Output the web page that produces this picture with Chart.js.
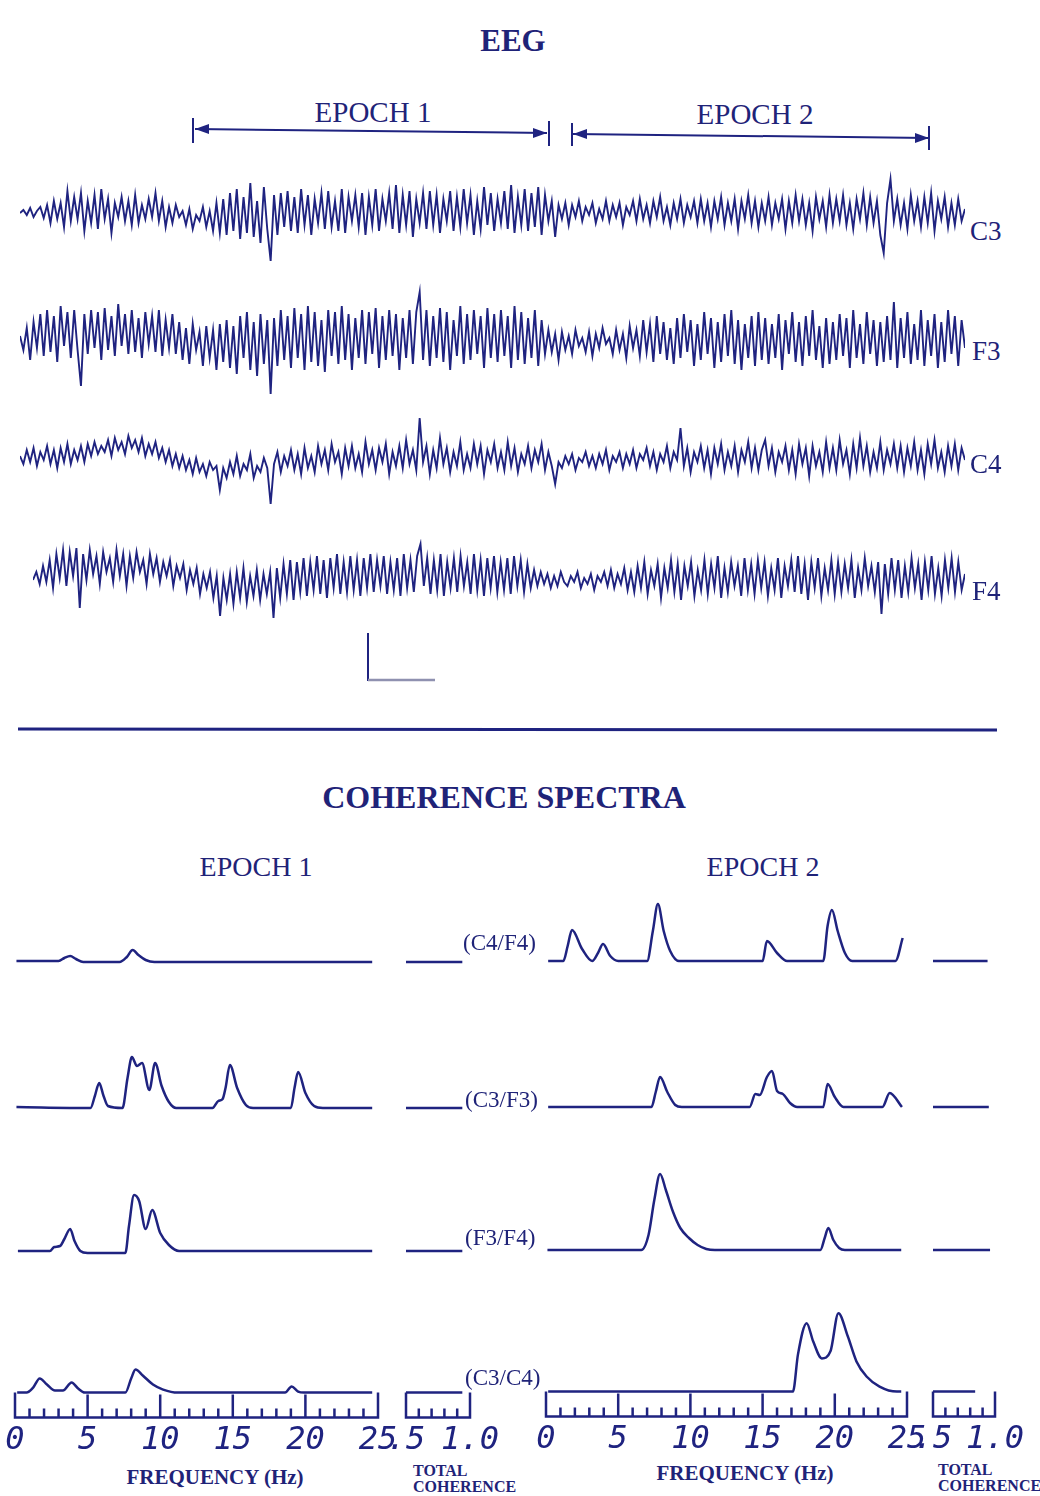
<!DOCTYPE html>
<html>
<head>
<meta charset="utf-8">
<script src="https://cdn.jsdelivr.net/npm/chart.js@4.4.1/dist/chart.umd.min.js"></script>
<style>
  html, body { margin: 0; padding: 0; background: #fff; }
  #page { position: relative; width: 1040px; height: 1496px; overflow: hidden; background: #fff;
          font-family: "Liberation Serif", "Times New Roman", serif; color: #1f2378; }
  .t { position: absolute; white-space: nowrap; line-height: 1; }
  .c { transform: translateX(-50%); }
  .b { font-weight: bold; }
  canvas { position: absolute; }
  svg { position: absolute; left: 0; top: 0; }
</style>
</head>
<body>
<div id="page">
  <svg width="1040" height="1496" viewBox="0 0 1040 1496">
    <g stroke="#1f2380" fill="#1f2380" stroke-width="2">
      <!-- epoch brackets above the traces -->
      <line x1="195" y1="129" x2="547" y2="133" />
      <line x1="193" y1="118" x2="193" y2="143" />
      <line x1="549" y1="121" x2="549" y2="146" />
      <polygon points="195,129 209,124 209,134" stroke="none" />
      <polygon points="547,133 533,128 533,138" stroke="none" />
      <line x1="573" y1="134" x2="929" y2="138" />
      <line x1="572" y1="123" x2="572" y2="146" />
      <line x1="929" y1="126" x2="929" y2="150" />
      <polygon points="573,134 587,129 587,139" stroke="none" />
      <polygon points="929,138 915,133 915,143" stroke="none" />
      <!-- calibration mark -->
      <line x1="368" y1="633" x2="368" y2="681" />
      <line x1="368" y1="680" x2="435" y2="680" stroke="#8f91b0" stroke-width="2.5" />
      <!-- section divider -->
      <line x1="18" y1="729" x2="997" y2="730" stroke-width="3" />
    </g>
  </svg>

  <div class="t c b" style="left:513px;top:25px;font-size:31px;">EEG</div>
  <div class="t c" style="left:373px;top:98px;font-size:29px;">EPOCH 1</div>
  <div class="t c" style="left:755px;top:100px;font-size:29px;">EPOCH 2</div>

  <div class="t c b" style="left:504px;top:781px;font-size:32px;">COHERENCE SPECTRA</div>
  <div class="t c" style="left:256px;top:853px;font-size:28px;">EPOCH 1</div>
  <div class="t c" style="left:763px;top:853px;font-size:28px;">EPOCH 2</div>

  <div class="t c b" style="left:215px;top:1467px;font-size:21px;">FREQUENCY (Hz)</div>
  <div class="t c b" style="left:745px;top:1463px;font-size:21px;">FREQUENCY (Hz)</div>
  <div class="t b" style="left:413px;top:1463px;font-size:16px;">TOTAL</div>
  <div class="t b" style="left:413px;top:1479px;font-size:16px;">COHERENCE</div>
  <div class="t b" style="left:938px;top:1462px;font-size:16px;">TOTAL</div>
  <div class="t b" style="left:938px;top:1478px;font-size:16px;">COHERENCE</div>
</div>

<script>
const INK = "#1f2380";

// EEG channels, deflection per sample (up is positive)
const CHANNELS = ["C3", "F3", "C4", "F4"];

const EEG_C3 = [
  0, 3, -2, 5, -4, 2, 6, -5, 8, -10, 12, -6, 10, -14, 22, -8, 16, -6, 20, -18,
  12, -10, 18, -16, 24, -6, 14, -20, 10, -4, 16, -8, 12, -12, 18, -10, 8, -6, 14, -4,
  20, -8, 12, -14, 6, -10, 8, -4, 2, -12, 4, -16, -2, -8, 6, -14, 2, -18, 10, -20,
  14, -22, 20, -18, 24, -26, 16, -20, 30, -24, 12, -30, 26, -16, -48, 18, -22, 20, -14, 22,
  -18, 16, -20, 24, -12, 18, -22, 14, -10, 20, -16, 22, -14, 12, -18, 24, -20, 16, -8, 18,
  -14, 20, -22, 16, -12, 24, -18, 14, -8, 20, -16, 28, -20, 18, -12, 22, -24, 14, -10, 20,
  -16, 22, -12, 18, -20, 14, -8, 22, -18, 16, -14, 24, -10, 18, -22, 12, -16, 26, -12, 20,
  -18, 14, -10, 22, -16, 28, -20, 16, -12, 24, -18, 20, -14, 26, -22, 18, -8, 12, -24, 8,
  -6, 10, -12, 8, -4, 12, -8, 6, -2, 10, -10, 4, -6, 12, -8, 8, -4, 10, -12, 6,
  -2, 12, -8, 14, -6, 8, -10, 12, -4, 16, -8, 6, -12, 10, -6, 14, -10, 8, -4, 12,
  -10, 14, -8, 10, -14, 12, -6, 16, -12, 10, -8, 14, -16, 12, -6, 18, -10, 12, -14, 10,
  -8, 16, -12, 10, -6, 14, -16, 12, -10, 18, -8, 14, -12, 10, -18, 16, -6, 12, -14, 18,
  -10, 14, -8, 18, -12, 10, -16, 14, -6, 20, -12, 16, -10, 12, -22, -40, 10, 34, -8, 14,
  -12, 10, -16, 18, -8, 12, -14, 16, -10, 20, -18, 12, -6, 16, -14, 10, -12, 14, -8, 4
];

const EEG_F3 = [
  4, -10, 12, -20, 18, -8, 26, -16, 30, -12, 24, -22, 34, -6, 28, -18, 30, -10, -46, 26,
  -14, 30, -8, 28, -20, 32, -10, 24, -16, 36, -6, 26, -14, 30, -12, 22, -18, 28, -4, 24,
  -12, 30, -16, 20, -8, 26, -14, 18, -20, 12, -24, 16, -10, 8, -26, 14, -18, 10, -30, 16,
  -22, 20, -28, 14, -34, 24, -18, 28, -30, 18, -36, 26, -24, 20, -54, 22, -26, 30, -20, 24,
  -28, 32, -18, 26, -30, 34, -22, 28, -26, 20, -32, 30, -16, 28, -24, 34, -20, 26, -30, 22,
  -18, 30, -24, 28, -14, 32, -28, 24, -20, 30, -16, 26, -30, 22, -18, 30, -24, 28, 48, -20,
  30, -26, 24, -18, 32, -22, 28, -30, 20, -16, 34, -24, 26, -20, 30, -14, 24, -28, 32, -18,
  26, -22, 30, -16, 24, -28, 34, -20, 28, -24, 22, -18, 30, -26, 20, -14, 10, -12, 6, -20,
  8, -10, 4, -14, 10, -6, 2, -12, 8, -16, 6, -8, 12, -4, 2, -14, 10, -10, 6, -18,
  14, -8, 10, -16, 20, -12, 16, -22, 24, -14, 18, -20, 12, -24, 22, -18, 26, -12, 20, -26,
  16, -20, 28, -14, 22, -28, 18, -22, 26, -16, 30, -24, 20, -30, 16, -18, 24, -26, 28, -20,
  22, -24, 16, -18, 26, -30, 20, -14, 28, -22, 18, -26, 24, -16, 30, -20, 14, -28, 22, -24,
  18, -20, 26, -16, 22, -28, 30, -18, 16, -24, 28, -14, 20, -26, 18, -22, 24, -20, 38, -28,
  22, -18, 28, -24, 16, -20, 30, -26, 20, -16, 26, -28, 18, -22, 30, -14, 24, -26, 20, -8
];

const EEG_C4 = [
  2, -6, 8, -4, 10, -8, 6, -2, 12, -6, 8, -10, 10, -4, 14, -6, 8, -2, 12, -4,
  14, 2, 16, 4, 12, 6, 18, 2, 20, 8, 16, 4, 22, 10, 18, 6, 20, 2, 14, 4,
  16, 0, 10, -4, 8, -8, 4, -10, 2, -12, -2, -16, 0, -14, -6, -18, -4, -12, -8, -32,
  -10, -20, -4, -16, 2, -18, -6, -12, 4, -20, -8, -14, 0, -10, -46, -6, 6, -14, 2, -8,
  8, -12, 4, -16, 10, -10, 2, -14, 12, -6, 8, -12, 14, -4, 6, -16, 10, -8, 12, -10,
  4, -14, 16, -6, 8, -12, 10, -4, 14, -16, 6, -8, 12, -10, 18, -6, 8, -12, 40, -4,
  12, -16, 8, -10, 20, -6, 10, -14, 6, -8, 16, -12, 4, -10, 14, -6, 12, -16, 8, -4,
  14, -10, 6, -12, 16, -8, 10, -14, 4, -6, 12, -10, 8, -4, 14, -12, 6, -8, -26, -4,
  -10, 2, -6, 4, -12, 0, -4, 6, -8, 2, -10, 4, -6, 8, -12, 2, -4, 6, -10, 4,
  -6, 8, -10, 4, -2, 10, -8, 6, -12, 4, -4, 12, -10, 6, -2, 30, -8, 10, -14, 6,
  -4, 12, -10, 8, -16, 10, -6, 14, -12, 6, -8, 12, -14, 8, -4, 16, -10, 10, -12, 8,
  18, -8, 10, -14, 6, -4, 12, -12, 8, -16, 14, -6, 10, -18, 12, -8, 6, -14, 16, -10,
  10, -12, 18, -6, 8, -16, 14, -10, 20, -8, 12, -14, 6, -10, 16, -12, 8, -6, 14, -10,
  12, -14, 10, -8, 16, -12, 8, -16, 14, -6, 18, -10, 6, -14, 12, -8, 14, -12, 10, -2
];

const EEG_F4 = [
  0, 8, -4, 14, -2, 20, -8, 26, 2, 30, -6, 28, 4, 32, -28, 26, 0, 30, 6, 24,
  -4, 28, 8, 22, -2, 30, 4, 26, -6, 24, 2, 28, 8, 20, -4, 26, 6, 22, -2, 18,
  4, 20, -6, 14, 2, 16, -10, 10, -4, 12, -14, 6, -8, 8, -18, 4, -36, 2, -20, 6,
  -24, 8, -18, 12, -22, 4, -16, 10, -20, 6, -14, 8, -38, 12, -18, 16, -14, 20, -20, 18,
  -12, 22, -16, 18, -10, 24, -14, 20, -18, 22, -8, 26, -14, 18, -12, 24, -10, 20, -16, 22,
  -8, 26, -12, 20, -6, 24, -14, 18, -10, 22, -16, 26, -8, 20, -12, 24, 36, -6, 22, -14,
  20, -10, 26, -16, 18, -8, 22, -12, 24, -6, 18, -14, 26, -10, 20, -16, 22, -8, 24, -12,
  18, -10, 22, -14, 24, -6, 20, -12, 16, -8, 10, -6, 8, -4, 6, -8, 4, -6, 8, -2,
  -6, 4, -2, 8, -8, 2, -4, 6, -10, 4, -2, 8, -6, 10, -8, 6, -4, 12, -10, 8,
  -12, 14, -8, 18, -14, 10, -6, 16, -18, 12, -8, 20, -12, 16, -20, 14, -6, 18, -16, 10,
  -10, 20, -14, 16, -8, 24, -18, 12, -12, 18, -6, 14, -16, 22, -10, 16, -14, 20, -8, 18,
  -16, 12, -10, 22, -18, 14, -6, 20, -12, 24, -14, 16, -20, 18, -8, 22, -16, 12, -10, 20,
  -14, 18, -12, 16, -8, 20, -18, 12, -10, 22, -6, 14, -12, 18, -34, 16, -14, 22, -10, 20,
  -18, 14, -12, 22, -8, 16, -20, 18, -10, 24, -14, 12, -16, 20, -8, 22, -12, 18, -10, 6
];

// coherence spectra, [frequency Hz, coherence]
const PAIRS = ["(C4/F4)", "(C3/F3)", "(F3/F4)", "(C3/C4)"];

const E1_C4F4 = [[0.1,0.01],[3.0,0.01],[3.4,0.04],[3.8,0.06],[4.2,0.03],[4.7,0],[7.2,0],[7.7,0.05],[8.1,0.12],[8.5,0.07],[9.0,0.02],[9.6,0],[24.6,0]];
const E1_C3F3 = [[0.1,0.01],[5.2,0],[5.5,0.12],[5.8,0.25],[6.1,0.12],[6.4,0.02],[7.4,0],[7.75,0.3],[8.05,0.51],[8.4,0.42],[8.75,0.45],[9.25,0.18],[9.65,0.45],[10.1,0.22],[10.6,0.06],[11.1,0],[13.6,0],[14.0,0.07],[14.3,0.09],[14.5,0.2],[14.8,0.43],[15.3,0.2],[15.9,0.03],[16.4,0],[19.0,0],[19.25,0.2],[19.5,0.36],[20.0,0.15],[20.6,0.02],[21.2,0],[24.6,0]];
const E1_F3F4 = [[0.2,0],[2.4,0],[2.7,0.04],[3.1,0.05],[3.4,0.12],[3.8,0.22],[4.1,0.1],[4.5,0],[5.0,-0.02],[7.6,-0.02],[7.85,0.25],[8.2,0.56],[8.55,0.5],[9.0,0.22],[9.45,0.41],[10.0,0.18],[10.6,0.06],[11.3,0],[24.6,0]];
const E1_C3C4 = [[0.15,0],[0.8,0],[1.25,0.05],[1.7,0.14],[2.2,0.08],[2.75,0.02],[3.3,0.02],[3.9,0.1],[4.35,0.04],[4.8,0],[7.6,0],[8.0,0.14],[8.3,0.23],[8.8,0.17],[9.5,0.08],[10.2,0.03],[11.2,0],[18.6,0],[19.05,0.06],[19.5,0.01],[19.9,0],[24.6,0]];

const E2_C4F4 = [[0.15,0],[1.2,0],[1.5,0.15],[1.8,0.31],[2.5,0.12],[3.2,0],[3.6,0.08],[3.95,0.17],[4.45,0.05],[5.0,0],[7.0,0],[7.4,0.3],[7.75,0.57],[8.15,0.3],[8.6,0.1],[9.2,0],[15.0,0],[15.3,0.2],[16.0,0.08],[16.7,0],[19.2,0],[19.5,0.35],[19.8,0.51],[20.2,0.3],[20.7,0.08],[21.2,0],[24.2,0],[24.7,0.23]];
const E2_C3F3 = [[0.15,0],[7.3,0],[7.6,0.15],[7.9,0.3],[8.4,0.15],[8.95,0.02],[9.4,0],[14.1,0],[14.5,0.13],[14.8,0.12],[15.3,0.3],[15.65,0.36],[16.0,0.16],[16.4,0.13],[16.9,0.04],[17.4,0],[19.2,0],[19.5,0.23],[20.0,0.1],[20.6,0],[23.3,0],[23.8,0.14],[24.65,0]];
const E2_F3F4 = [[0.1,0],[6.6,0],[7.1,0.15],[7.5,0.5],[7.9,0.76],[8.3,0.6],[8.8,0.38],[9.3,0.22],[9.9,0.12],[10.5,0.05],[11.1,0.01],[11.7,0],[19.0,0],[19.3,0.12],[19.55,0.22],[19.9,0.1],[20.3,0.02],[20.7,0],[24.6,0]];
const E2_C3C4 = [[0.15,0],[17.1,0],[17.45,0.37],[18.05,0.68],[18.5,0.5],[19.1,0.33],[19.7,0.4],[20.25,0.78],[20.9,0.55],[21.5,0.3],[22.2,0.15],[23.1,0.05],[24.3,0],[24.6,0]];

// total coherence, one value per pair
const TC_EPOCH1 = [0.94, 0.94, 0.94, 0.94];
const TC_EPOCH2 = [0.94, 0.95, 0.96, 0.84];

const FREQ_TICKS = [0, 5, 10, 15, 20, 25];
const FREQ_MINOR = [1, 2, 3, 4, 6, 7, 8, 9, 11, 12, 13, 14, 16, 17, 18, 19, 21, 22, 23, 24];
const TC_TICKS = [0.5, 1.0];
const TC_TICK_LABELS = [".5", "1.0"];
const TC_MINOR = [0.6, 0.7, 0.8, 0.9];

const page = document.getElementById("page");
const TICK_FONT = { family: '"DejaVu Sans Mono", monospace', size: 32, style: "italic" };
const BRACKET_H = 25;
const AX_PAD = 64;

function addCanvas(left, top, w, h) {
  const c = document.createElement("canvas");
  c.width = w;
  c.height = h;
  c.style.left = left + "px";
  c.style.top = top + "px";
  c.style.width = w + "px";
  c.style.height = h + "px";
  page.appendChild(c);
  return c;
}

function addText(txt, left, top, size) {
  const d = document.createElement("div");
  d.className = "t";
  d.textContent = txt;
  d.style.left = left + "px";
  d.style.top = top + "px";
  d.style.fontSize = size + "px";
  page.appendChild(d);
}

// scale box under the bottom row of spectra
const bracketPlugin = {
  id: "bracket",
  afterDatasetsDraw(chart, args, opts) {
    if (!opts || !opts.on) return;
    const { ctx } = chart;
    const x = chart.scales.x;
    const y0 = chart.scales.y.getPixelForValue(0);
    const yb = y0 + BRACKET_H;
    const x0 = x.getPixelForValue(x.min);
    const x1 = x.getPixelForValue(x.max);
    ctx.save();
    ctx.strokeStyle = INK;
    ctx.lineWidth = 2.5;
    ctx.beginPath();
    ctx.moveTo(x0, y0);
    ctx.lineTo(x0, yb);
    ctx.lineTo(x1, yb);
    ctx.lineTo(x1, y0);
    (opts.major || []).forEach((v) => {
      const px = x.getPixelForValue(v);
      ctx.moveTo(px, y0 + 2);
      ctx.lineTo(px, yb);
    });
    (opts.minor || []).forEach((v) => {
      const px = x.getPixelForValue(v);
      ctx.moveTo(px, yb);
      ctx.lineTo(px, yb - 9);
    });
    ctx.stroke();
    ctx.restore();
  }
};

const baseOptions = () => ({
  responsive: false,
  animation: false,
  events: [],
  plugins: { legend: { display: false }, tooltip: { enabled: false } }
});

function eegChart(values, left, width, center) {
  const c = addCanvas(left, center - 60, width, 120);
  new Chart(c, {
    type: "line",
    data: {
      labels: values.map((_, i) => i),
      datasets: [{
        data: values,
        borderColor: INK,
        borderWidth: 1.9,
        pointRadius: 0,
        tension: 0,
        clip: false
      }]
    },
    options: {
      ...baseOptions(),
      layout: { padding: 0 },
      scales: {
        x: { display: false, offset: false },
        y: { display: false, min: -60, max: 60 }
      }
    }
  });
}

// one spectrum panel (0-25 Hz) or one total-coherence panel (.5-1.0)
function panelChart(points, left, width, baseline, range, withAxis) {
  const isFreq = range[1] > 1;
  const pad = withAxis ? AX_PAD : 0;
  const h = withAxis ? 193 : 104;
  const c = addCanvas(left - pad, baseline - 100, width + pad * 2, h);
  const tickVals = isFreq ? FREQ_TICKS : TC_TICKS;
  new Chart(c, {
    type: "line",
    data: {
      datasets: [{
        data: points.map(([f, v]) => ({ x: f, y: v })),
        borderColor: INK,
        borderWidth: 2.5,
        pointRadius: 0,
        cubicInterpolationMode: "monotone",
        clip: false
      }]
    },
    options: {
      ...baseOptions(),
      layout: { padding: { left: pad, right: pad, top: 0, bottom: 0 } },
      scales: {
        x: {
          type: "linear",
          min: range[0],
          max: range[1],
          display: withAxis,
          grid: { display: false, drawTicks: false },
          border: { display: false },
          afterBuildTicks: (axis) => { axis.ticks = tickVals.map((v) => ({ value: v })); },
          ticks: {
            padding: 25,
            color: INK,
            font: TICK_FONT,
            maxRotation: 0,
            autoSkip: false,
            callback: (v) => isFreq ? String(v) : TC_TICK_LABELS[TC_TICKS.indexOf(v)]
          }
        },
        y: { display: false, min: -0.04, max: 1 }
      },
      plugins: {
        ...baseOptions().plugins,
        bracket: withAxis
          ? { on: true, major: isFreq ? FREQ_TICKS.slice(1, -1) : [], minor: isFreq ? FREQ_MINOR : TC_MINOR }
          : { on: false }
      }
    },
    plugins: [bracketPlugin]
  });
}

// EEG traces
const traces = [EEG_C3, EEG_F3, EEG_C4, EEG_F4];
const traceLeft = [20, 20, 20, 33];
const traceCenter = [213, 340, 458, 580];
const labelPos = [[970, 218], [972, 338], [970, 451], [972, 578]];
traces.forEach((vals, i) => {
  eegChart(vals, traceLeft[i], 965 - traceLeft[i], traceCenter[i]);
  addText(CHANNELS[i], labelPos[i][0], labelPos[i][1], 27);
});

// coherence rows
const epoch1 = [E1_C4F4, E1_C3F3, E1_F3F4, E1_C3C4];
const epoch2 = [E2_C4F4, E2_C3F3, E2_F3F4, E2_C3C4];
const baseL = [962, 1108, 1251, 1392];
const baseR = [961, 1107, 1250, 1391];
const pairTop = [931, 1088, 1226, 1366];
const pairLeft = [463, 465, 465, 465];

epoch1.forEach((pts, i) => {
  const last = i === 3;
  panelChart(pts, 15, 363, baseL[i], [0, 25], last);
  panelChart([[0.5, 0], [TC_EPOCH1[i], 0]], 406, 64, baseL[i], [0.5, 1.0], last);
  panelChart(epoch2[i], 546, 361, baseR[i], [0, 25], last);
  panelChart([[0.5, 0], [TC_EPOCH2[i], 0]], 933, 62, baseR[i], [0.5, 1.0], last);
  addText(PAIRS[i], pairLeft[i], pairTop[i], 23);
});
</script>
</body>
</html>
